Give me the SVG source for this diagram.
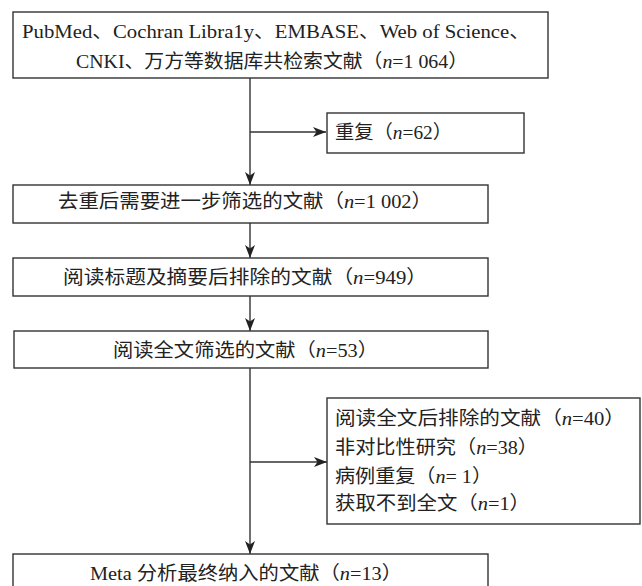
<svg xmlns="http://www.w3.org/2000/svg" width="642" height="586" viewBox="0 0 642 586">
<defs>
<style>
.box{fill:#fff;stroke:#333;stroke-width:1.4}
.t{font-family:"Liberation Serif","Noto Sans CJK SC",serif;font-size:19px;fill:#222}
.i{font-style:italic}
.c{fill:none;stroke:#333;stroke-width:1.4}
</style>
<marker id="ah" markerUnits="userSpaceOnUse" markerWidth="14" markerHeight="12" refX="13" refY="5" orient="auto">
<path d="M0,0 L13,5 L0,10 L3.5,5 z" fill="#222"/>
</marker>
</defs>
<rect width="642" height="586" fill="#fff"/>
<g id="connectors">
<line class="c" x1="250" y1="78" x2="250" y2="185" marker-end="url(#ah)"/>
<line class="c" x1="250" y1="132" x2="326" y2="132" marker-end="url(#ah)"/>
<line class="c" x1="250" y1="223" x2="250" y2="258" marker-end="url(#ah)"/>
<line class="c" x1="250" y1="296" x2="250" y2="331" marker-end="url(#ah)"/>
<line class="c" x1="250" y1="368" x2="250" y2="554" marker-end="url(#ah)"/>
<line class="c" x1="250" y1="462" x2="327" y2="462" marker-end="url(#ah)"/>
</g>
<g id="n1">
<rect class="box" x="13" y="12" width="535" height="66"/>
<text class="t" x="22" y="38" textLength="508" lengthAdjust="spacingAndGlyphs">PubMed、Cochran Libra1y、EMBASE、Web of Science、</text>
<text class="t" x="76" y="68" textLength="392" lengthAdjust="spacingAndGlyphs">CNKI、万方等数据库共检索文献（<tspan class="i">n</tspan>=1 064）</text>
</g>
<g id="n2">
<rect class="box" x="327" y="113" width="197" height="40"/>
<text class="t" x="335" y="139" textLength="117" lengthAdjust="spacingAndGlyphs">重复（<tspan class="i">n</tspan>=62）</text>
</g>
<g id="n3">
<rect class="box" x="13" y="185" width="475" height="38"/>
<text class="t" x="58" y="208" textLength="374" lengthAdjust="spacingAndGlyphs">去重后需要进一步筛选的文献（<tspan class="i">n</tspan>=1 002）</text>
</g>
<g id="n4">
<rect class="box" x="13" y="258" width="475" height="38"/>
<text class="t" x="63" y="284" textLength="364" lengthAdjust="spacingAndGlyphs">阅读标题及摘要后排除的文献（<tspan class="i">n</tspan>=949）</text>
</g>
<g id="n5">
<rect class="box" x="14" y="331" width="474" height="37"/>
<text class="t" x="113" y="357" textLength="265" lengthAdjust="spacingAndGlyphs">阅读全文筛选的文献（<tspan class="i">n</tspan>=53）</text>
</g>
<g id="n6">
<rect class="box" x="327" y="398" width="313" height="126"/>
<text class="t" x="335" y="425" textLength="290" lengthAdjust="spacingAndGlyphs">阅读全文后排除的文献（<tspan class="i">n</tspan>=40）</text>
<text class="t" x="335" y="454" textLength="203" lengthAdjust="spacingAndGlyphs">非对比性研究（<tspan class="i">n</tspan>=38）</text>
<text class="t" x="335" y="483" textLength="157" lengthAdjust="spacingAndGlyphs">病例重复（<tspan class="i">n</tspan>= 1）</text>
<text class="t" x="335" y="510" textLength="195" lengthAdjust="spacingAndGlyphs">获取不到全文（<tspan class="i">n</tspan>=1）</text>
</g>
<g id="n7">
<rect class="box" x="13" y="554" width="475" height="40"/>
<text class="t" x="90" y="580" textLength="312" lengthAdjust="spacingAndGlyphs">Meta 分析最终纳入的文献（<tspan class="i">n</tspan>=13）</text>
</g>
</svg>
